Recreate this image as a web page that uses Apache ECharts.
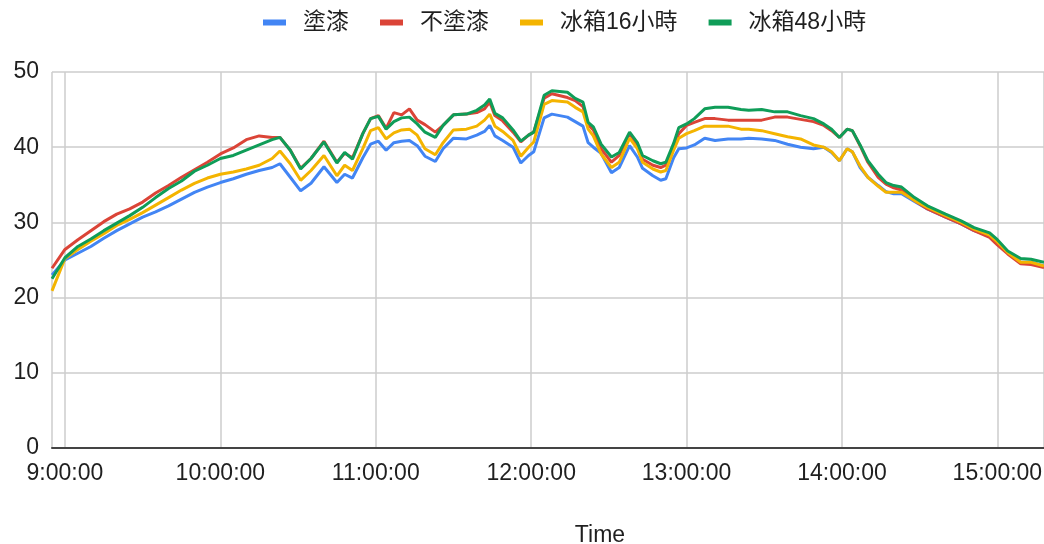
<!DOCTYPE html>
<html>
<head>
<meta charset="utf-8">
<script src="https://cdn.jsdelivr.net/npm/echarts@6/dist/echarts.min.js"></script>
<style>
  html, body { margin: 0; padding: 0; background: #ffffff; }
  #chart { width: 1044px; height: 544px; }
</style>
</head>
<body>
<div id="chart"></div>
<script>
// Temperature readings (°C) logged through the day for four sample boxes.
const seriesNames = ['塗漆', '不塗漆', '冰箱16小時', '冰箱48小時'];

const times = [
  '8:55', '9:00', '9:05', '9:10', '9:15', '9:20', '9:25', '9:30', '9:35', '9:40',
  '9:45', '9:50', '9:55', '10:00', '10:05', '10:10', '10:15', '10:20', '10:23', '10:27',
  '10:31', '10:35', '10:40', '10:45', '10:48', '10:51', '10:55', '10:58', '11:01', '11:04',
  '11:07', '11:10', '11:13', '11:16', '11:19', '11:23', '11:26', '11:30', '11:35', '11:39',
  '11:42', '11:44', '11:46', '11:49', '11:53', '11:56', '11:59', '12:01', '12:05', '12:08',
  '12:14', '12:17', '12:20', '12:22', '12:24', '12:27', '12:31', '12:34', '12:38', '12:41',
  '12:43', '12:47', '12:50', '12:52', '12:55', '12:57', '13:00', '13:03', '13:07', '13:11',
  '13:16', '13:21', '13:24', '13:29', '13:34', '13:39', '13:44', '13:49', '13:53', '13:56',
  '13:59', '14:02', '14:04', '14:07', '14:10', '14:14', '14:17', '14:20', '14:23', '14:28',
  '14:33', '14:40', '14:46', '14:51', '14:57', '15:00', '15:04', '15:09', '15:13', '15:18'
];

const painted = [
  23.0, 25.0, 25.9, 26.8, 27.9, 28.9, 29.8, 30.7, 31.4, 32.2,
  33.1, 34.0, 34.7, 35.3, 35.8, 36.4, 36.9, 37.3, 37.8, 36.0,
  34.2, 35.2, 37.4, 35.3, 36.4, 35.9, 38.6, 40.4, 40.8, 39.6,
  40.6, 40.8, 40.9, 40.2, 38.8, 38.1, 39.8, 41.2, 41.1, 41.6,
  42.1, 42.9, 41.5, 40.9, 40.0, 37.9, 38.9, 39.4, 43.9, 44.4,
  44.0, 43.4, 42.8, 40.6, 40.0, 39.2, 36.6, 37.3, 40.2, 38.7,
  37.2, 36.2, 35.6, 35.8, 38.6, 39.8, 39.9, 40.3, 41.2, 40.9,
  41.1, 41.1, 41.2, 41.1, 40.9, 40.4, 40.0, 39.8, 40.0, 39.3,
  38.2, 39.8, 39.4, 37.3, 36.0, 34.9, 34.1, 33.8, 33.8, 32.8,
  31.8, 30.7, 29.8, 28.9, 28.2, 27.2, 26.0, 24.7, 24.7, 24.2
];

const unpainted = [
  23.9, 26.4, 27.7, 28.9, 30.1, 31.1, 31.8, 32.7, 33.9, 34.9,
  36.0, 37.0, 38.0, 39.1, 39.9, 41.0, 41.5, 41.3, 41.3, 39.6,
  37.2, 38.5, 40.8, 38.0, 39.2, 38.6, 41.8, 43.8, 44.2, 42.5,
  44.6, 44.3, 45.1, 43.6, 43.0, 42.0, 42.9, 44.3, 44.4, 44.6,
  45.1, 46.0, 44.2, 43.5, 42.0, 40.7, 41.6, 42.0, 46.5, 47.1,
  46.6, 46.2, 45.4, 43.0, 42.3, 39.8, 38.0, 38.9, 41.8, 40.3,
  38.4, 37.6, 37.3, 37.6, 40.2, 41.8, 42.9, 43.3, 43.8, 43.8,
  43.6, 43.6, 43.6, 43.6, 44.0, 44.0, 43.7, 43.4, 42.9, 42.2,
  41.3, 42.4, 42.2, 40.2, 38.0, 36.0, 35.1, 34.6, 34.3, 32.9,
  31.8, 30.7, 29.8, 28.9, 28.0, 27.0, 25.8, 24.5, 24.4, 24.0
];

const fridge16h = [
  20.9, 25.2, 26.4, 27.5, 28.5, 29.6, 30.4, 31.3, 32.3, 33.3,
  34.3, 35.2, 35.9, 36.4, 36.7, 37.1, 37.6, 38.5, 39.5, 37.8,
  35.6, 36.9, 38.9, 36.2, 37.6, 36.9, 39.8, 42.2, 42.6, 41.1,
  41.9, 42.3, 42.4, 41.6, 39.8, 39.0, 40.6, 42.3, 42.4, 42.8,
  43.6, 44.4, 42.8, 42.1, 40.9, 38.8, 40.0, 40.7, 45.7, 46.2,
  46.0, 45.3, 44.7, 42.4, 41.5, 39.1, 37.3, 38.0, 41.2, 39.8,
  38.0, 37.1, 36.7, 36.9, 39.6, 41.2, 41.8, 42.2, 42.8, 42.8,
  42.8, 42.4, 42.4, 42.2, 41.8, 41.4, 41.1, 40.3, 40.0, 39.4,
  38.2, 39.8, 39.4, 37.5, 36.0, 34.8, 34.0, 34.0, 34.0, 32.9,
  32.0, 30.9, 30.0, 29.1, 28.3, 27.4, 26.0, 24.7, 24.7, 24.2
];

const fridge48h = [
  22.5, 25.3, 26.8, 27.8, 28.9, 29.9, 30.9, 32.0, 33.3, 34.5,
  35.5, 36.8, 37.6, 38.5, 38.9, 39.6, 40.3, 41.0, 41.3, 39.6,
  37.1, 38.5, 40.7, 37.9, 39.3, 38.4, 41.8, 43.8, 44.1, 42.4,
  43.4, 43.9, 44.0, 43.1, 42.0, 41.3, 42.9, 44.3, 44.4, 44.9,
  45.6, 46.4, 44.5, 43.9, 42.3, 40.8, 41.6, 42.0, 46.9, 47.5,
  47.3, 46.5, 46.0, 43.3, 42.7, 40.4, 38.7, 39.3, 42.0, 40.6,
  38.9, 38.2, 37.8, 38.0, 40.5, 42.6, 43.1, 43.8, 45.1, 45.3,
  45.3, 45.0, 44.9, 45.0, 44.7, 44.7, 44.2, 43.8, 43.1, 42.4,
  41.3, 42.4, 42.2, 40.3, 38.2, 36.4, 35.3, 34.9, 34.7, 33.3,
  32.2, 31.1, 30.2, 29.3, 28.6, 27.7, 26.2, 25.2, 25.1, 24.7
];

const seriesValues = [painted, unpainted, fridge16h, fridge48h];
const seriesColors = ['#4285F4', '#DB4437', '#F4B400', '#0F9D58'];

const yTicks = { min: 0, max: 50, step: 10 };

// Clock strings -> UTC timestamps on a fixed day
const toTs = (s) => {
  const [h, m] = s.split(':').map(Number);
  return Date.UTC(2024, 0, 1, h, m, 0);
};
const stamps = times.map(toTs);

const FONT = '"Liberation Sans", Arial, "Noto Sans CJK TC", sans-serif';
const TEXT = '#1f1f1f';
const HOUR = 3600 * 1000;

const chart = echarts.init(document.getElementById('chart'), null, { renderer: 'canvas' });

chart.setOption({
  useUTC: true,
  animation: false,
  backgroundColor: '#ffffff',
  textStyle: { fontFamily: FONT },
  color: seriesColors,
  legend: {
    left: 263,
    top: 11,
    padding: 0,
    icon: 'rect',
    itemWidth: 23,
    itemHeight: 6,
    itemGap: 31,
    data: seriesNames,
    textStyle: {
      fontFamily: FONT,
      fontSize: 23,
      color: TEXT,
      padding: [0, 0, 0, 12]
    }
  },
  grid: {
    left: 52,
    right: 0,
    top: 72,
    bottom: 96,
    containLabel: false,
    outerBoundsMode: 'none'
  },
  xAxis: {
    type: 'time',
    min: stamps[0],
    max: stamps[stamps.length - 1],
    minInterval: HOUR,
    maxInterval: HOUR,
    name: 'Time',
    nameLocation: 'middle',
    nameGap: 76,
    nameTextStyle: {
      fontFamily: FONT,
      fontSize: 23,
      color: TEXT,
      padding: [0, 0, 0, 104]
    },
    axisLine: { show: true, lineStyle: { color: '#444444', width: 2 } },
    axisTick: { show: false },
    splitLine: { show: true, lineStyle: { color: '#cccccc', width: 1.5 } },
    axisLabel: {
      formatter: '{H}:{mm}:{ss}',
      fontFamily: FONT,
      fontSize: 23,
      color: TEXT,
      margin: 14
    }
  },
  yAxis: {
    type: 'value',
    min: yTicks.min,
    max: yTicks.max,
    interval: yTicks.step,
    axisLine: { show: false },
    axisTick: { show: false },
    splitLine: { show: true, lineStyle: { color: '#cccccc', width: 1.5 } },
    axisLabel: {
      fontFamily: FONT,
      fontSize: 23,
      color: TEXT,
      margin: 13
    }
  },
  series: seriesNames.map((name, i) => ({
    name: name,
    type: 'line',
    showSymbol: false,
    symbol: 'none',
    lineStyle: { width: 3, color: seriesColors[i] },
    itemStyle: { color: seriesColors[i] },
    data: stamps.map((t, k) => [t, seriesValues[i][k]])
  }))
});
</script>
</body>
</html>
